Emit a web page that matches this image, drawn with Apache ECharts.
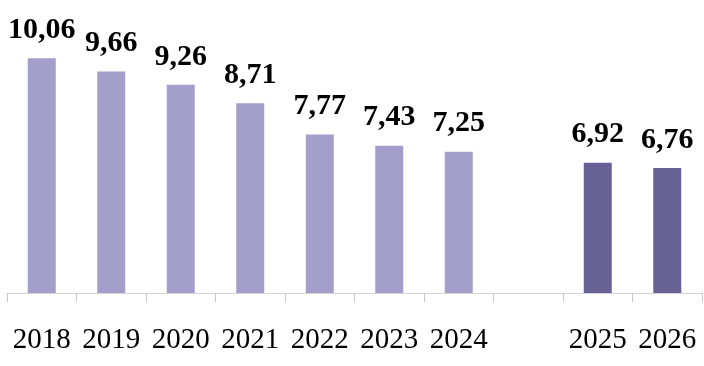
<!DOCTYPE html>
<html><head><meta charset="utf-8">
<script src="https://cdn.jsdelivr.net/npm/echarts@6/dist/echarts.min.js"></script>
<style>html,body{margin:0;padding:0;background:#fff}#c{width:704px;height:366px}</style>
</head><body><div id="c"></div>
<script>
var categories = ['2018','2019','2020','2021','2022','2023','2024','','2025','2026'];
var values = [10.06, 9.66, 9.26, 8.71, 7.77, 7.43, 7.25, null, 6.92, 6.76];
var forecastYears = ['2025','2026'];

var chart = echarts.init(document.getElementById('c'));
chart.setOption({
  animation: false,
  grid: {left: 7, right: 2, top: 27, bottom: 73},
  xAxis: {
    type: 'category',
    data: categories,
    axisLine: {lineStyle: {color: '#d4d4d4', width: 1}},
    axisTick: {show: true, length: 9, lineStyle: {color: '#c8c8c8'}},
    axisLabel: {color: '#000', fontFamily: 'Liberation Serif', fontSize: 29, margin: 33, interval: 0, hideOverlap: false}
  },
  yAxis: {type: 'value', min: 3, max: 11, show: false, splitLine: {show: false}},
  series: [{
    type: 'bar',
    data: values,
    barWidth: 28,
    itemStyle: {
      color: function (p) {
        return forecastYears.indexOf(categories[p.dataIndex]) >= 0 ? '#686196' : '#a49ecb';
      }
    },
    label: {
      show: true,
      position: 'top',
      distance: 13,
      color: '#000',
      fontFamily: 'Liberation Serif',
      fontWeight: 'bold',
      fontSize: 30,
      formatter: function (p) { return p.value == null ? '' : p.value.toFixed(2).replace('.', ','); }
    }
  }]
});
</script></body></html>
